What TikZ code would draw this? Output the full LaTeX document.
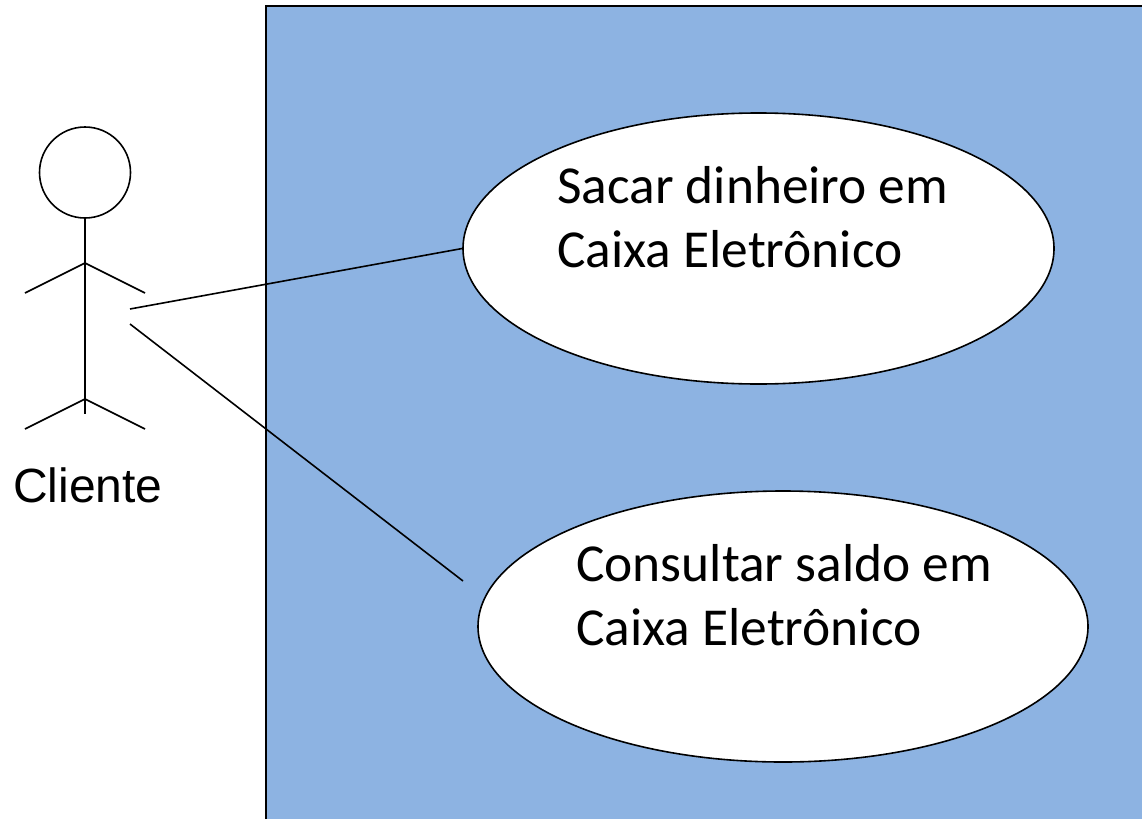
\documentclass[tikz,border=0pt]{standalone}
\usepackage{fontspec}
\setmainfont{Carlito}
\newfontfamily\actorfont{Liberation Sans}
\usetikzlibrary{shapes.geometric}
\definecolor{boxblue}{HTML}{8DB3E2}

\begin{document}
\begin{tikzpicture}[x=1pt,y=-1pt,line width=1.6pt,
    usecase/.style={ellipse,draw,fill=white,inner sep=0pt},
    caselabel/.style={font=\fontsize{53.4}{64}\selectfont,align=left,anchor=north west,inner sep=0pt}]

  \useasboundingbox (0,0) rectangle (1142,819);
  \fill[white] (0,0) rectangle (1142,819);

  \fill[fill=boxblue] (266,6) rectangle (1142,819);
  \draw (266,819) -- (266,6) -- (1142,6);

  \node[usecase,minimum width=591pt,minimum height=271pt] (sacar) at (758.5,248.5) {};
  \node[usecase,minimum width=610pt,minimum height=271pt] (consultar) at (783,626.5) {};
  \node[caselabel] (sacartext) at (556.5,166) {Sacar dinheiro em\\Caixa Eletrônico};
  \node[caselabel] (consultartext) at (575.5,544) {Consultar saldo em\\Caixa Eletrônico};

  % actor
  \node[circle,draw,minimum size=91pt,inner sep=0pt] (head) at (85,172.5) {};
  \coordinate (neck) at (85,263);
  \coordinate (hip) at (85,399);
  \coordinate (tail) at (85,414);
  \coordinate (handl) at (25,293);
  \coordinate (handr) at (145,293);
  \coordinate (footl) at (25,429);
  \coordinate (footr) at (145,429);
  \draw (head) -- (tail);
  \draw (handl) -- (neck) -- (handr);
  \draw (footl) -- (hip) -- (footr);
  \node[font=\actorfont\fontsize{48}{56}\selectfont,inner sep=0pt] (cliente) at (88,485.5) {Cliente};

  \coordinate (linka) at (130,309);
  \coordinate (linkb) at (130,324);
  \coordinate (linkc) at (463,581);
  \draw (linka) -- (sacar.west);
  \draw (linkb) -- (linkc);

\end{tikzpicture}
\end{document}
